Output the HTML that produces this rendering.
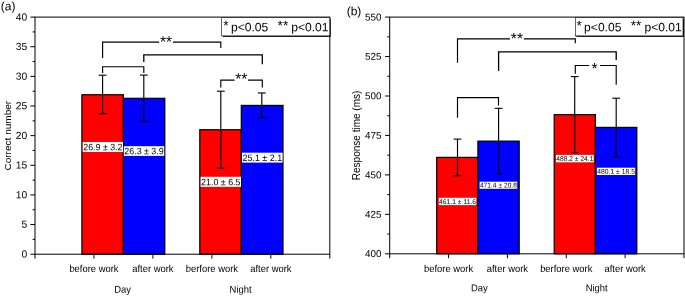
<!DOCTYPE html>
<html><head><meta charset="utf-8"><title>Figure</title>
<style>html,body{margin:0;padding:0;background:#fff;}svg{display:block;will-change:transform;}text{font-family:"Liberation Sans", sans-serif;fill:#000;}</style>
</head><body>
<svg width="685" height="296" viewBox="0 0 685 296">
<rect x="0" y="0" width="685" height="296" fill="#fff"/>
<rect x="81.90" y="94.75" width="41.50" height="159.45" fill="#ff0000" stroke="#000" stroke-width="1.2"/>
<rect x="123.40" y="98.31" width="41.40" height="155.89" fill="#0000ff" stroke="#000" stroke-width="1.2"/>
<rect x="199.80" y="129.72" width="41.50" height="124.48" fill="#ff0000" stroke="#000" stroke-width="1.2"/>
<rect x="241.30" y="105.42" width="41.70" height="148.78" fill="#0000ff" stroke="#000" stroke-width="1.2"/>
<line x1="102.60" y1="75.20" x2="102.60" y2="113.72" stroke="#000" stroke-width="1.15"/>
<line x1="98.70" y1="75.20" x2="106.50" y2="75.20" stroke="#000" stroke-width="1.1"/>
<line x1="98.70" y1="113.72" x2="106.50" y2="113.72" stroke="#000" stroke-width="1.1"/>
<line x1="143.80" y1="75.10" x2="143.80" y2="121.42" stroke="#000" stroke-width="1.15"/>
<line x1="139.90" y1="75.10" x2="147.70" y2="75.10" stroke="#000" stroke-width="1.1"/>
<line x1="139.90" y1="121.42" x2="147.70" y2="121.42" stroke="#000" stroke-width="1.1"/>
<line x1="220.80" y1="91.19" x2="220.80" y2="168.25" stroke="#000" stroke-width="1.15"/>
<line x1="216.90" y1="91.19" x2="224.70" y2="91.19" stroke="#000" stroke-width="1.1"/>
<line x1="216.90" y1="168.25" x2="224.70" y2="168.25" stroke="#000" stroke-width="1.1"/>
<line x1="261.80" y1="92.97" x2="261.80" y2="117.87" stroke="#000" stroke-width="1.15"/>
<line x1="257.90" y1="92.97" x2="265.70" y2="92.97" stroke="#000" stroke-width="1.1"/>
<line x1="257.90" y1="117.87" x2="265.70" y2="117.87" stroke="#000" stroke-width="1.1"/>
<rect x="82.70" y="142.00" width="40.30" height="10.00" fill="#fff"/>
<text transform="translate(102.85,150.30) rotate(0.03)" font-size="9.2" text-anchor="middle" textLength="39.30" lengthAdjust="spacingAndGlyphs">26.9 ± 3.2</text>
<rect x="123.80" y="146.20" width="40.40" height="9.70" fill="#fff"/>
<text transform="translate(144.00,154.20) rotate(0.03)" font-size="9.2" text-anchor="middle" textLength="39.40" lengthAdjust="spacingAndGlyphs">26.3 ± 3.9</text>
<rect x="200.60" y="176.80" width="40.40" height="10.10" fill="#fff"/>
<text transform="translate(220.80,185.20) rotate(0.03)" font-size="9.2" text-anchor="middle" textLength="39.40" lengthAdjust="spacingAndGlyphs">21.0 ± 6.5</text>
<rect x="242.00" y="152.70" width="40.60" height="9.90" fill="#fff"/>
<text transform="translate(262.30,160.90) rotate(0.03)" font-size="9.2" text-anchor="middle" textLength="39.60" lengthAdjust="spacingAndGlyphs">25.1 ± 2.1</text>
<rect x="35.00" y="17.10" width="294.80" height="237.10" fill="none" stroke="#000" stroke-width="1.0"/>
<line x1="30.40" y1="254.20" x2="35.00" y2="254.20" stroke="#000" stroke-width="1.0"/>
<text transform="translate(27.20,257.50) rotate(0.03)" font-size="10.3" text-anchor="end" >0</text>
<line x1="32.60" y1="239.38" x2="35.00" y2="239.38" stroke="#000" stroke-width="1.0"/>
<line x1="30.40" y1="224.56" x2="35.00" y2="224.56" stroke="#000" stroke-width="1.0"/>
<text transform="translate(27.20,227.86) rotate(0.03)" font-size="10.3" text-anchor="end" >5</text>
<line x1="32.60" y1="209.74" x2="35.00" y2="209.74" stroke="#000" stroke-width="1.0"/>
<line x1="30.40" y1="194.92" x2="35.00" y2="194.92" stroke="#000" stroke-width="1.0"/>
<text transform="translate(27.20,198.22) rotate(0.03)" font-size="10.3" text-anchor="end" >10</text>
<line x1="32.60" y1="180.11" x2="35.00" y2="180.11" stroke="#000" stroke-width="1.0"/>
<line x1="30.40" y1="165.29" x2="35.00" y2="165.29" stroke="#000" stroke-width="1.0"/>
<text transform="translate(27.20,168.59) rotate(0.03)" font-size="10.3" text-anchor="end" >15</text>
<line x1="32.60" y1="150.47" x2="35.00" y2="150.47" stroke="#000" stroke-width="1.0"/>
<line x1="30.40" y1="135.65" x2="35.00" y2="135.65" stroke="#000" stroke-width="1.0"/>
<text transform="translate(27.20,138.95) rotate(0.03)" font-size="10.3" text-anchor="end" >20</text>
<line x1="32.60" y1="120.83" x2="35.00" y2="120.83" stroke="#000" stroke-width="1.0"/>
<line x1="30.40" y1="106.01" x2="35.00" y2="106.01" stroke="#000" stroke-width="1.0"/>
<text transform="translate(27.20,109.31) rotate(0.03)" font-size="10.3" text-anchor="end" >25</text>
<line x1="32.60" y1="91.19" x2="35.00" y2="91.19" stroke="#000" stroke-width="1.0"/>
<line x1="30.40" y1="76.38" x2="35.00" y2="76.38" stroke="#000" stroke-width="1.0"/>
<text transform="translate(27.20,79.67) rotate(0.03)" font-size="10.3" text-anchor="end" >30</text>
<line x1="32.60" y1="61.56" x2="35.00" y2="61.56" stroke="#000" stroke-width="1.0"/>
<line x1="30.40" y1="46.74" x2="35.00" y2="46.74" stroke="#000" stroke-width="1.0"/>
<text transform="translate(27.20,50.04) rotate(0.03)" font-size="10.3" text-anchor="end" >35</text>
<line x1="32.60" y1="31.92" x2="35.00" y2="31.92" stroke="#000" stroke-width="1.0"/>
<line x1="30.40" y1="17.10" x2="35.00" y2="17.10" stroke="#000" stroke-width="1.0"/>
<text transform="translate(27.20,20.40) rotate(0.03)" font-size="10.3" text-anchor="end" >40</text>
<line x1="35.00" y1="254.20" x2="35.00" y2="258.60" stroke="#000" stroke-width="1.0"/>
<line x1="93.96" y1="254.20" x2="93.96" y2="258.60" stroke="#000" stroke-width="1.0"/>
<line x1="152.92" y1="254.20" x2="152.92" y2="258.60" stroke="#000" stroke-width="1.0"/>
<line x1="211.88" y1="254.20" x2="211.88" y2="258.60" stroke="#000" stroke-width="1.0"/>
<line x1="270.84" y1="254.20" x2="270.84" y2="258.60" stroke="#000" stroke-width="1.0"/>
<line x1="329.80" y1="254.20" x2="329.80" y2="258.60" stroke="#000" stroke-width="1.0"/>
<text transform="translate(93.96,271.90) rotate(0.03) scale(0.942,1)" font-size="10.0" text-anchor="middle">before work</text>
<text transform="translate(152.92,271.90) rotate(0.03) scale(0.942,1)" font-size="10.0" text-anchor="middle">after work</text>
<text transform="translate(211.88,271.90) rotate(0.03) scale(0.942,1)" font-size="10.0" text-anchor="middle">berfore work</text>
<text transform="translate(270.84,271.90) rotate(0.03) scale(0.942,1)" font-size="10.0" text-anchor="middle">after work</text>
<text transform="translate(122.60,292.70) rotate(0.03) scale(0.942,1)" font-size="10.0" text-anchor="middle">Day</text>
<text transform="translate(240.60,292.70) rotate(0.03) scale(0.942,1)" font-size="10.0" text-anchor="middle">Night</text>
<text transform="translate(11.30,135.70) rotate(-90)" font-size="9.9" text-anchor="middle" textLength="69.8" lengthAdjust="spacingAndGlyphs">Correct number</text>
<text transform="translate(0.80,10.20) rotate(0.03)" font-size="12" text-anchor="start" >(a)</text>
<polyline points="102.60,58.00 102.60,42.10 220.80,42.10 220.80,48.00" fill="none" stroke="#000" stroke-width="1.15" stroke-linejoin="miter"/>
<rect x="159.20" y="39.10" width="13.80" height="6" fill="#fff"/>
<text transform="translate(166.10,46.90) rotate(0.03)" font-size="15.6" text-anchor="middle" >**</text>
<polyline points="143.80,61.90 143.80,54.90 262.30,54.90 262.30,64.20" fill="none" stroke="#000" stroke-width="1.3" stroke-linejoin="miter"/>
<polyline points="102.60,72.90 102.60,66.70 143.80,66.70 143.80,72.90" fill="none" stroke="#000" stroke-width="1.15" stroke-linejoin="miter"/>
<polyline points="220.80,87.40 220.80,80.10 262.30,80.10 262.30,87.40" fill="none" stroke="#000" stroke-width="1.15" stroke-linejoin="miter"/>
<rect x="234.60" y="77.10" width="13.50" height="6" fill="#fff"/>
<text transform="translate(241.35,84.10) rotate(0.03)" font-size="15.6" text-anchor="middle" >**</text>
<rect x="222.70" y="18.70" width="108.10" height="18.20" fill="#111"/>
<rect x="221.70" y="17.70" width="108.10" height="18.20" fill="#fff" stroke="#000" stroke-width="0.6"/>
<text transform="translate(223.30,30.00) rotate(0.03)" font-size="13.6" text-anchor="start" >*</text>
<text transform="translate(230.90,31.30) rotate(0.03)" font-size="12.1" text-anchor="start" >p&lt;0.05</text>
<text transform="translate(277.60,30.00) rotate(0.03)" font-size="13.6" text-anchor="start" >**</text>
<text transform="translate(291.20,31.30) rotate(0.03)" font-size="12.1" text-anchor="start" >p&lt;0.01</text>
<rect x="436.70" y="157.38" width="41.20" height="96.42" fill="#ff0000" stroke="#000" stroke-width="1.2"/>
<rect x="477.90" y="141.13" width="41.30" height="112.67" fill="#0000ff" stroke="#000" stroke-width="1.2"/>
<rect x="554.20" y="114.62" width="41.20" height="139.18" fill="#ff0000" stroke="#000" stroke-width="1.2"/>
<rect x="595.40" y="127.40" width="41.40" height="126.40" fill="#0000ff" stroke="#000" stroke-width="1.2"/>
<line x1="457.50" y1="139.08" x2="457.50" y2="175.69" stroke="#000" stroke-width="1.15"/>
<line x1="453.60" y1="139.08" x2="461.40" y2="139.08" stroke="#000" stroke-width="1.1"/>
<line x1="453.60" y1="175.69" x2="461.40" y2="175.69" stroke="#000" stroke-width="1.1"/>
<line x1="498.60" y1="108.31" x2="498.60" y2="173.95" stroke="#000" stroke-width="1.15"/>
<line x1="494.70" y1="108.31" x2="502.50" y2="108.31" stroke="#000" stroke-width="1.1"/>
<line x1="494.70" y1="173.95" x2="502.50" y2="173.95" stroke="#000" stroke-width="1.1"/>
<line x1="574.70" y1="76.59" x2="574.70" y2="152.65" stroke="#000" stroke-width="1.15"/>
<line x1="570.80" y1="76.59" x2="578.60" y2="76.59" stroke="#000" stroke-width="1.1"/>
<line x1="570.80" y1="152.65" x2="578.60" y2="152.65" stroke="#000" stroke-width="1.1"/>
<line x1="616.20" y1="98.21" x2="616.20" y2="156.60" stroke="#000" stroke-width="1.15"/>
<line x1="612.30" y1="98.21" x2="620.10" y2="98.21" stroke="#000" stroke-width="1.1"/>
<line x1="612.30" y1="156.60" x2="620.10" y2="156.60" stroke="#000" stroke-width="1.1"/>
<rect x="438.80" y="197.80" width="37.50" height="7.30" fill="#fff"/>
<text transform="translate(457.55,203.90) rotate(0.03)" font-size="6.8" text-anchor="middle" textLength="36.90" lengthAdjust="spacingAndGlyphs">461.1 ± 11.6</text>
<rect x="479.60" y="181.70" width="37.60" height="7.10" fill="#fff"/>
<text transform="translate(498.40,187.60) rotate(0.03)" font-size="6.8" text-anchor="middle" textLength="37.00" lengthAdjust="spacingAndGlyphs">471.4 ± 20.8</text>
<rect x="556.00" y="154.90" width="37.70" height="7.40" fill="#fff"/>
<text transform="translate(574.85,161.10) rotate(0.03)" font-size="6.8" text-anchor="middle" textLength="37.10" lengthAdjust="spacingAndGlyphs">488.2 ± 24.1</text>
<rect x="596.90" y="167.70" width="38.30" height="7.30" fill="#fff"/>
<text transform="translate(616.05,173.80) rotate(0.03)" font-size="6.8" text-anchor="middle" textLength="37.70" lengthAdjust="spacingAndGlyphs">480.1 ± 18.5</text>
<rect x="389.70" y="17.10" width="294.30" height="236.70" fill="none" stroke="#000" stroke-width="1.0"/>
<line x1="385.10" y1="253.80" x2="389.70" y2="253.80" stroke="#000" stroke-width="1.0"/>
<text transform="translate(381.40,257.10) rotate(0.03)" font-size="9.9" text-anchor="end" >400</text>
<line x1="387.30" y1="234.08" x2="389.70" y2="234.08" stroke="#000" stroke-width="1.0"/>
<line x1="385.10" y1="214.35" x2="389.70" y2="214.35" stroke="#000" stroke-width="1.0"/>
<text transform="translate(381.40,217.65) rotate(0.03)" font-size="9.9" text-anchor="end" >425</text>
<line x1="387.30" y1="194.62" x2="389.70" y2="194.62" stroke="#000" stroke-width="1.0"/>
<line x1="385.10" y1="174.90" x2="389.70" y2="174.90" stroke="#000" stroke-width="1.0"/>
<text transform="translate(381.40,178.20) rotate(0.03)" font-size="9.9" text-anchor="end" >450</text>
<line x1="387.30" y1="155.18" x2="389.70" y2="155.18" stroke="#000" stroke-width="1.0"/>
<line x1="385.10" y1="135.45" x2="389.70" y2="135.45" stroke="#000" stroke-width="1.0"/>
<text transform="translate(381.40,138.75) rotate(0.03)" font-size="9.9" text-anchor="end" >475</text>
<line x1="387.30" y1="115.72" x2="389.70" y2="115.72" stroke="#000" stroke-width="1.0"/>
<line x1="385.10" y1="96.00" x2="389.70" y2="96.00" stroke="#000" stroke-width="1.0"/>
<text transform="translate(381.40,99.30) rotate(0.03)" font-size="9.9" text-anchor="end" >500</text>
<line x1="387.30" y1="76.28" x2="389.70" y2="76.28" stroke="#000" stroke-width="1.0"/>
<line x1="385.10" y1="56.55" x2="389.70" y2="56.55" stroke="#000" stroke-width="1.0"/>
<text transform="translate(381.40,59.85) rotate(0.03)" font-size="9.9" text-anchor="end" >525</text>
<line x1="387.30" y1="36.83" x2="389.70" y2="36.83" stroke="#000" stroke-width="1.0"/>
<line x1="385.10" y1="17.10" x2="389.70" y2="17.10" stroke="#000" stroke-width="1.0"/>
<text transform="translate(381.40,20.40) rotate(0.03)" font-size="9.9" text-anchor="end" >550</text>
<line x1="389.70" y1="253.80" x2="389.70" y2="258.20" stroke="#000" stroke-width="1.0"/>
<line x1="448.56" y1="253.80" x2="448.56" y2="258.20" stroke="#000" stroke-width="1.0"/>
<line x1="507.42" y1="253.80" x2="507.42" y2="258.20" stroke="#000" stroke-width="1.0"/>
<line x1="566.28" y1="253.80" x2="566.28" y2="258.20" stroke="#000" stroke-width="1.0"/>
<line x1="625.14" y1="253.80" x2="625.14" y2="258.20" stroke="#000" stroke-width="1.0"/>
<line x1="684.00" y1="253.80" x2="684.00" y2="258.20" stroke="#000" stroke-width="1.0"/>
<text transform="translate(448.56,271.90) rotate(0.03) scale(0.942,1)" font-size="10.0" text-anchor="middle">before work</text>
<text transform="translate(507.42,271.90) rotate(0.03) scale(0.942,1)" font-size="10.0" text-anchor="middle">after work</text>
<text transform="translate(566.28,271.90) rotate(0.03) scale(0.942,1)" font-size="10.0" text-anchor="middle">berfore work</text>
<text transform="translate(625.14,271.90) rotate(0.03) scale(0.942,1)" font-size="10.0" text-anchor="middle">after work</text>
<text transform="translate(479.30,291.30) rotate(0.03) scale(0.942,1)" font-size="10.0" text-anchor="middle">Day</text>
<text transform="translate(596.70,291.30) rotate(0.03) scale(0.942,1)" font-size="10.0" text-anchor="middle">Night</text>
<text transform="translate(359.80,135.45) rotate(-90)" font-size="10.3" text-anchor="middle" textLength="89.6" lengthAdjust="spacingAndGlyphs">Response time (ms)</text>
<text transform="translate(346.70,15.20) rotate(0.03)" font-size="12" text-anchor="start" >(b)</text>
<polyline points="457.50,62.80 457.50,38.90 575.30,38.90 575.30,43.20" fill="none" stroke="#000" stroke-width="1.15" stroke-linejoin="miter"/>
<rect x="510.00" y="35.90" width="13.80" height="6" fill="#fff"/>
<text transform="translate(516.90,43.70) rotate(0.03)" font-size="15.6" text-anchor="middle" >**</text>
<polyline points="498.60,71.10 498.60,51.80 616.20,51.80 616.20,59.90" fill="none" stroke="#000" stroke-width="1.3" stroke-linejoin="miter"/>
<polyline points="457.50,117.70 457.50,97.60 498.50,97.60 498.50,105.40" fill="none" stroke="#000" stroke-width="1.15" stroke-linejoin="miter"/>
<polyline points="575.30,73.70 575.30,65.50 616.20,65.50 616.20,84.80" fill="none" stroke="#000" stroke-width="1.15" stroke-linejoin="miter"/>
<rect x="589.20" y="62.50" width="10.80" height="6" fill="#fff"/>
<text transform="translate(594.60,73.80) rotate(0.03)" font-size="15.6" text-anchor="middle" >*</text>
<rect x="576.40" y="18.70" width="107.60" height="18.20" fill="#111"/>
<rect x="575.40" y="17.70" width="107.60" height="18.20" fill="#fff" stroke="#000" stroke-width="0.6"/>
<text transform="translate(576.50,30.00) rotate(0.03)" font-size="13.6" text-anchor="start" >*</text>
<text transform="translate(584.10,31.30) rotate(0.03)" font-size="12.1" text-anchor="start" >p&lt;0.05</text>
<text transform="translate(630.80,30.00) rotate(0.03)" font-size="13.6" text-anchor="start" >**</text>
<text transform="translate(644.40,31.30) rotate(0.03)" font-size="12.1" text-anchor="start" >p&lt;0.01</text>
</svg></body></html>
